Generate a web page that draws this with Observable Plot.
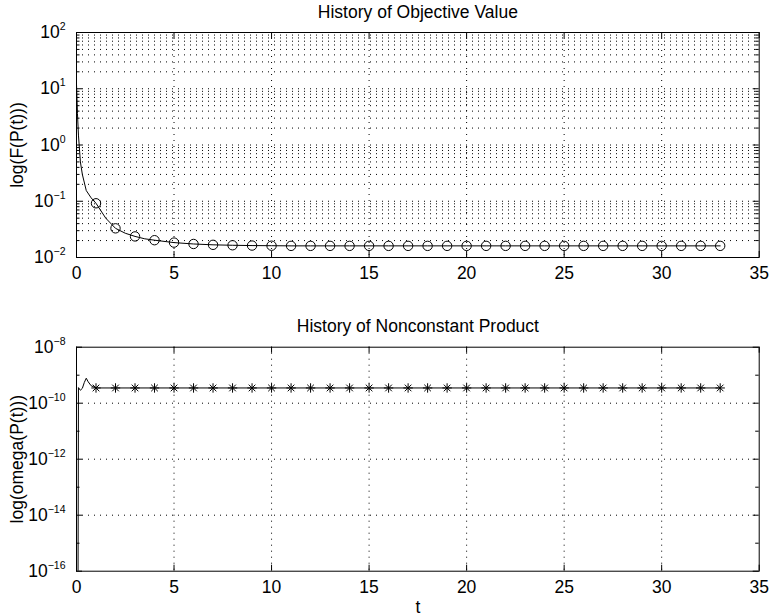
<!DOCTYPE html>
<html><head><meta charset="utf-8">
<script src="https://cdn.jsdelivr.net/npm/d3@7"></script>
<script src="https://cdn.jsdelivr.net/npm/@observablehq/plot@0.6"></script>
<style>
body{margin:0;background:#fff}
#chart{position:relative;width:769px;height:616px;background:#fff}
#chart > div{position:absolute;left:0}
</style>
</head><body>
<div id="chart"><div id="p1" style="top:0"></div><div id="p2" style="top:290px"></div></div>
<script>
// ---------- data ----------
const topTitle = "History of Objective Value";
const botTitle = "History of Nonconstant Product";
const topYLabel = "log(F(P(t)))";
const botYLabel = "log(omega(P(t)))";
const xLabel = "t";

const xTicks = [0, 5, 10, 15, 20, 25, 30, 35];
const topMajor = [1e-2, 1e-1, 1e0, 1e1, 1e2];
const botMajor = [1e-16, 1e-14, 1e-12, 1e-10, 1e-8];
const botMinor = [1e-15, 1e-13, 1e-11, 1e-9];
const minorMult = [2, 3, 4, 5, 6, 7, 8, 9];

// objective value F(P(t))
const tTop = [0, 0.05, 0.1, 0.2, 0.3, 0.5, 0.75, 1, 1.5, 2, 2.5, 3, 3.5, 4, 5, 6, 7, 8, 9, 10,
  11, 12, 13, 14, 15, 16, 17, 18, 19, 20, 21, 22, 23, 24, 25, 26, 27, 28, 29, 30, 31, 32, 33];
const fTop = [12, 3.6, 1.5, 0.5, 0.3, 0.155, 0.115, 0.092, 0.05, 0.033, 0.027, 0.0237, 0.0215, 0.0203, 0.0184, 0.0174, 0.0168, 0.0165, 0.0163, 0.0162,
  0.0161, 0.0161, 0.0161, 0.0161, 0.0161, 0.0161, 0.0161, 0.0161, 0.0161, 0.0161, 0.0161, 0.0161, 0.0161, 0.0161, 0.0161, 0.0161, 0.0161, 0.0161, 0.0161, 0.0161, 0.0161, 0.0161, 0.0161];

// nonconstant product omega(P(t))
const tBot = [0.08, 0.1, 0.2, 0.3, 0.4, 0.5, 0.6, 0.75, 1, 2, 3, 4, 5, 6, 7, 8, 9, 10,
  11, 12, 13, 14, 15, 16, 17, 18, 19, 20, 21, 22, 23, 24, 25, 26, 27, 28, 29, 30, 31, 32, 33];
const wBot = [1e-16, 3.6e-10, 2.9e-10, 3.4e-10, 5.5e-10, 7.8e-10, 5.8e-10, 4.2e-10, 3.5e-10, 3.5e-10, 3.5e-10, 3.5e-10, 3.5e-10, 3.5e-10, 3.5e-10, 3.5e-10, 3.5e-10, 3.5e-10,
  3.5e-10, 3.5e-10, 3.5e-10, 3.5e-10, 3.5e-10, 3.5e-10, 3.5e-10, 3.5e-10, 3.5e-10, 3.5e-10, 3.5e-10, 3.5e-10, 3.5e-10, 3.5e-10, 3.5e-10, 3.5e-10, 3.5e-10, 3.5e-10, 3.5e-10, 3.5e-10, 3.5e-10, 3.5e-10, 3.5e-10];

// ---------- tables ----------
const topData = tTop.map((t, i) => ({t, v: fTop[i]}));
const botData = tBot.map((t, i) => ({t, v: wBot[i]}));
const isMarker = d => d.t >= 1 && Number.isInteger(d.t);
const topMinor = topMajor.slice(0, -1).flatMap(d => minorMult.map(k => k * d));

// ---------- layout / style ----------
const W = 769, ML = 76, MR = 10.3;
const XDOM = [0, 35];
const FONT = "'Liberation Sans', Arial, Helvetica, sans-serif";
const TICKFS = 17.5, LABELFS = 17.5;
const DOT = {stroke: "#000", strokeOpacity: 1, strokeWidth: 1, strokeDasharray: "1,5"};

const star = {
  draw(ctx, size) {
    const r = Math.sqrt(size / Math.PI), q = r * Math.SQRT1_2;
    ctx.moveTo(-r, 0); ctx.lineTo(r, 0);
    ctx.moveTo(0, -r); ctx.lineTo(0, r);
    ctx.moveTo(-q, -q); ctx.lineTo(q, q);
    ctx.moveTo(-q, q); ctx.lineTo(q, -q);
  }
};

const fmtExp = d => "10^" + Math.round(Math.log10(d));

function supTicks(svg) {
  svg.querySelectorAll('g[aria-label="y-axis tick label"] text').forEach(t => {
    const parts = t.textContent.split("^");
    if (parts.length < 2) return;
    t.textContent = parts[0];
    const ts = document.createElementNS("http://www.w3.org/2000/svg", "tspan");
    ts.setAttribute("dy", "-0.75em");
    ts.setAttribute("font-size", "0.6em");
    ts.textContent = parts[1].replace("-", "\u2212");
    t.appendChild(ts);
  });
  return svg;
}

function panel({height, mt, mb, data, ydomain, yticks, gridY, minorTicks, marker, markerR, title, ylabel, extra}) {
  const ph = height - mt - mb, pw = W - ML - MR;
  const ymid = Math.sqrt(ydomain[0] * ydomain[1]);
  const xmid = (XDOM[0] + XDOM[1]) / 2;
  return supTicks(Plot.plot({
    width: W, height, marginLeft: ML, marginRight: MR, marginTop: mt, marginBottom: mb,
    style: {fontFamily: FONT, fontSize: TICKFS + "px", color: "#000", background: "#fff", overflow: "visible"},
    x: {domain: XDOM},
    y: {type: "log", domain: ydomain},
    marks: [
      Plot.gridY(gridY, DOT),
      Plot.gridX(xTicks.slice(1, -1), DOT),
      // inward ticks (MATLAB box style)
      Plot.tickX(xTicks, {x: d => d, insetTop: ph - 6, stroke: "#000"}),
      Plot.tickX(xTicks, {x: d => d, insetBottom: ph - 6, stroke: "#000"}),
      Plot.tickY(yticks, {y: d => d, insetRight: pw - 6, stroke: "#000"}),
      Plot.tickY(yticks, {y: d => d, insetLeft: pw - 6, stroke: "#000"}),
      Plot.tickY(minorTicks, {y: d => d, insetRight: pw - 3.5, stroke: "#000"}),
      Plot.tickY(minorTicks, {y: d => d, insetLeft: pw - 3.5, stroke: "#000"}),
      Plot.line(data, {x: "t", y: "v", stroke: "#000", strokeWidth: 1, clip: true}),
      Plot.dot(data.filter(isMarker), {x: "t", y: "v", r: markerR, symbol: marker, stroke: "#000", fill: "none", strokeWidth: 1}),
      Plot.frame({stroke: "#000", strokeWidth: 1}),
      Plot.axisX({ticks: xTicks, tickSize: 0, tickPadding: 9, label: null}),
      Plot.axisY({ticks: yticks, tickFormat: fmtExp, tickSize: 0, tickPadding: 11, label: null}),
      Plot.text([title], {x: () => xmid, y: () => ydomain[1], dy: -20.5, fontSize: LABELFS, fill: "#000"}),
      Plot.text([ylabel], {x: () => XDOM[0], y: () => ymid, rotate: -90, dx: -59, fontSize: LABELFS, fill: "#000"}),
      ...(extra ? extra(xmid, ydomain) : [])
    ]
  }));
}

const p1 = panel({
  height: 290, mt: 32, mb: 33, data: topData, ydomain: [1e-2, 1e2], yticks: topMajor,
  gridY: topMinor.concat(topMajor.slice(1, -1)), minorTicks: topMinor,
  marker: "circle", markerR: 4.7, title: topTitle, ylabel: topYLabel
});
const p2 = panel({
  height: 326, mt: 56.7, mb: 45.3, data: botData, ydomain: [1e-16, 1e-8], yticks: botMajor,
  gridY: botMajor.slice(1, -1), minorTicks: botMinor,
  marker: star, markerR: 4.7, title: botTitle, ylabel: botYLabel,
  extra: (xmid, yd) => [Plot.text([xLabel], {x: () => xmid, y: () => yd[0], dy: 36.3, fontSize: LABELFS, fill: "#000"})]
});
document.getElementById("p1").appendChild(p1);
document.getElementById("p2").appendChild(p2);
</script>
</body></html>
